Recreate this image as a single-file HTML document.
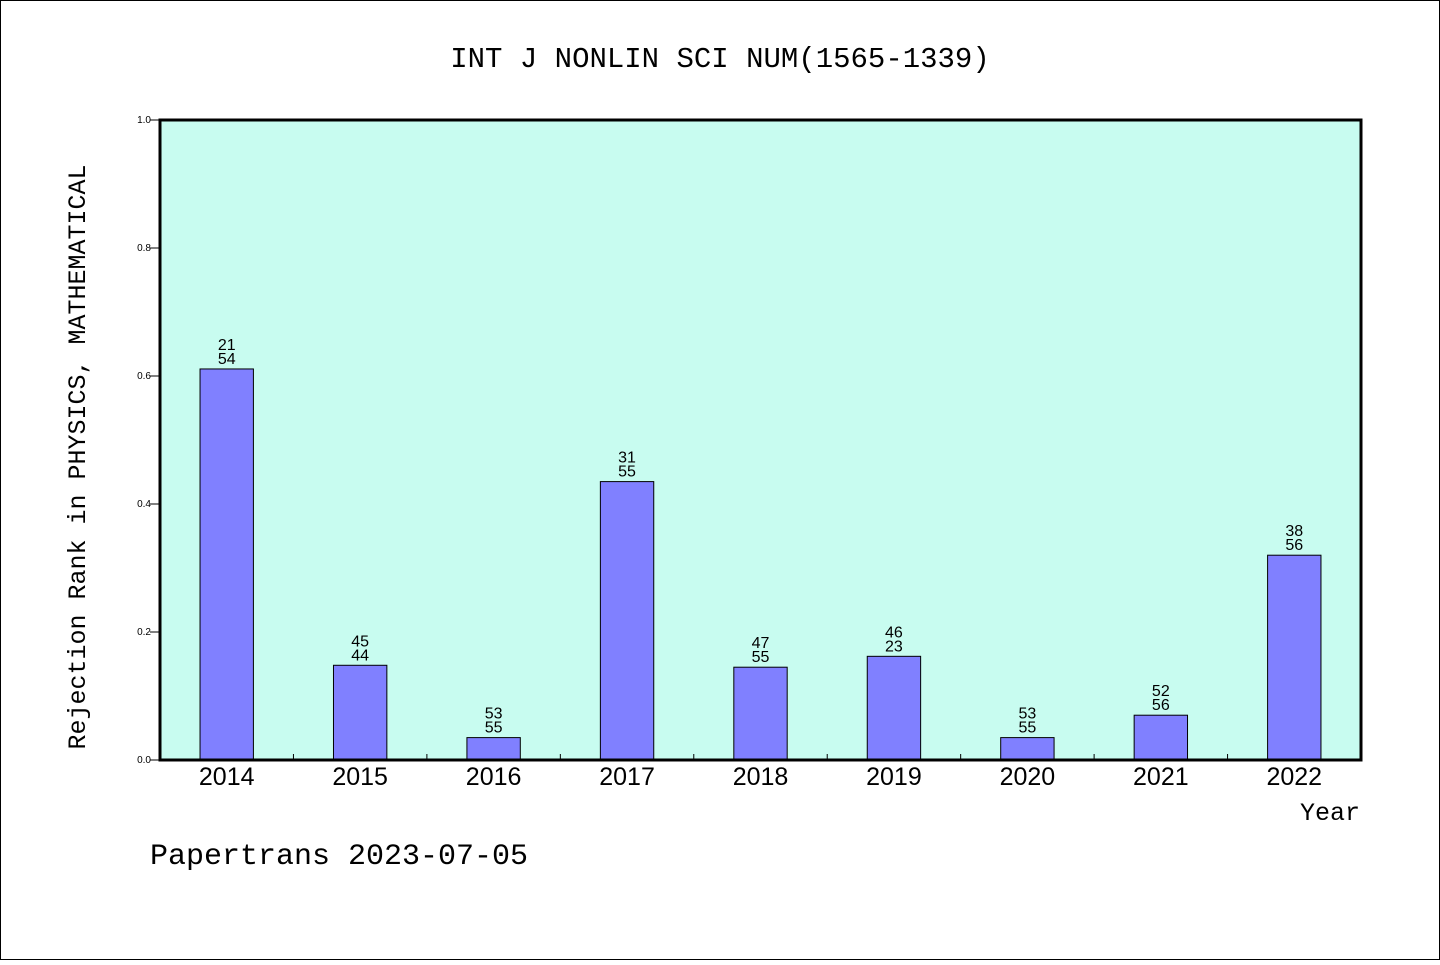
<!DOCTYPE html>
<html><head><meta charset="utf-8"><style>
html,body{margin:0;padding:0;background:#fff}
svg text{font-family:"Liberation Sans","WenQuanYi Zen Hei",sans-serif;fill:#000}
.mono{font-family:"Liberation Mono","WenQuanYi Zen Hei",monospace}
</style></head><body>
<svg id="chart" width="1440" height="960" xmlns="http://www.w3.org/2000/svg">
<rect x="0.5" y="0.5" width="1439" height="959" fill="#fff" stroke="#000" stroke-width="1"/>
<text class="mono" x="720" y="67" font-size="29" text-anchor="middle">INT J NONLIN SCI NUM(1565-1339)</text>
<rect x="160" y="120" width="1201" height="640" fill="#c8fcf0"/>
<g id="bars"></g>
<g id="yticks"></g>
<g id="xticks"></g>
<rect x="160" y="120" width="1201" height="640" fill="none" stroke="#000" stroke-width="3"/>
<text class="mono" transform="translate(85,457) rotate(-90)" font-size="25" text-anchor="middle">Rejection Rank in PHYSICS, MATHEMATICAL</text>
<text class="mono" x="1360" y="820" font-size="25" text-anchor="end">Year</text>
<text class="mono" x="150" y="864" font-size="30">Papertrans 2023-07-05</text>
</svg>
<script>
const categories=["2014","2015","2016","2017","2018","2019","2020","2021","2022"];
const values=[0.611,0.148,0.035,0.435,0.145,0.162,0.035,0.070,0.320];
const labelTop=["21","45","53","31","47","46","53","52","38"];
const labelBottom=["54","44","55","55","55","23","55","56","56"];
const yTicks=[0,0.2,0.4,0.6,0.8,1.0];
const yTickLabels=["0.0","0.2","0.4","0.6","0.8","1.0"];
const NS="http://www.w3.org/2000/svg";
const x0=160,x1=1361,y0=760,y1=120;
const band=(x1-x0)/categories.length;
const xC=i=>x0+band*(i+0.5);
const yS=v=>y0-(y0-y1)*v;
function mk(t,a,p){const e=document.createElementNS(NS,t);for(const k in a)e.setAttribute(k,a[k]);p.appendChild(e);return e;}
const gb=document.getElementById('bars'),gy=document.getElementById('yticks'),gx=document.getElementById('xticks');
const bw=band*0.4;
categories.forEach((c,i)=>{
  const r=mk('rect',{x:xC(i)-bw/2,y:yS(values[i]),width:bw,height:y0-yS(values[i]),fill:'#8080ff',stroke:'#000','stroke-width':1},gb);
  
  
  const t1=mk('text',{x:xC(i),y:yS(values[i])-19,'font-size':16,'text-anchor':'middle'},gb);t1.textContent=labelTop[i];
  
  
  const t2=mk('text',{x:xC(i),y:yS(values[i])-5,'font-size':16,'text-anchor':'middle'},gb);t2.textContent=labelBottom[i];
  
  
  const xl=mk('text',{x:xC(i),y:785,'font-size':25,'text-anchor':'middle'},gx);xl.textContent=c;
  
  
  if(i>0){const tk=mk('line',{x1:x0+band*i,x2:x0+band*i,y1:y0,y2:y0-6,stroke:'#000','stroke-width':1},gx);
  
  }
});
yTicks.forEach((v,i)=>{
  const l=mk('line',{x1:x0-10,x2:x0,y1:yS(v),y2:yS(v),stroke:'#000','stroke-width':1},gy);
  
  
  const t=mk('text',{x:x0-9,y:yS(v)+3,'font-size':10,'text-anchor':'end'},gy);t.textContent=yTickLabels[i];
  
  
});
</script>
</body></html>
